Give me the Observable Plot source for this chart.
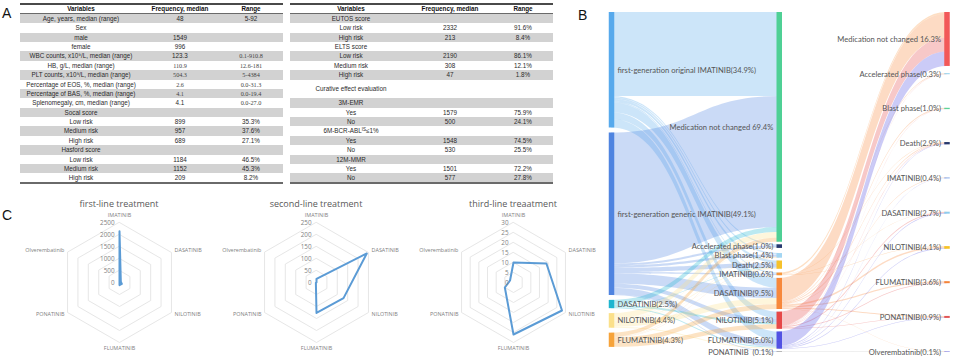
<!DOCTYPE html>
<html>
<head>
<meta charset="utf-8">
<script src="https://cdn.jsdelivr.net/npm/d3@7"></script>
<script src="https://cdn.jsdelivr.net/npm/@observablehq/plot@0.6"></script>
<style>
  html,body{margin:0;padding:0;background:#fff;}
  #fig{position:relative;width:957px;height:360px;overflow:hidden;background:#fff;font-family:"Liberation Sans",Arial,sans-serif;}
  .abs{position:absolute;}
  .plabel{position:absolute;font-size:14px;line-height:14px;color:#111;}
  .cell{position:absolute;top:0;transform:translateX(-50%);white-space:nowrap;font-size:6.3px;color:#2a2a2a;}
  .cell sup{font-size:4.5px;vertical-align:2px;line-height:0;}
  .serif{font-family:"Liberation Serif","Times New Roman",serif;font-size:6.2px;color:#444;}
  .hdr{font-weight:bold;color:#111;}
  .rtitle{position:absolute;text-align:center;font-family:"Open Sans",sans-serif;font-size:9px;line-height:12px;color:#595959;white-space:nowrap;}
</style>
</head>
<body>
<div id="fig"></div>
<script>
// ================= DATA =================
// Panel A — table 1
const t1Headers = ["Variables", "Frequency, median", "Range"];
const t1Variables = ["Age, years, median (range)", "Sex", "male", "female",
  "WBC counts, x10⁹/L, median (range)", "HB, g/L, median (range)", "PLT counts, x10⁹/L, median (range)",
  "Percentage of EOS, %, median (range)", "Percentage of BAS, %, median (range)", "Splenomegaly, cm, median (range)",
  "Socal score", "Low risk", "Medium risk", "High risk", "Hasford score", "Low risk", "Medium risk", "High risk"];
const t1Frequency = ["48", "", "1549", "996", "123.3", "110.9", "504.3", "2.6", "4.1", "4.1",
  "", "899", "957", "689", "", "1184", "1152", "209"];
const t1Range = ["5-92", "", "", "", "0.1-910.8", "12.6-181", "5-4384", "0.0-31.3", "0.0-19.4", "0.0-27.0",
  "", "35.3%", "37.6%", "27.1%", "", "46.5%", "45.3%", "8.2%"];

// Panel A — table 2
const t2Headers = ["Variables", "Frequency, median", "Range"];
const t2Variables = ["EUTOS score", "Low risk", "High risk", "ELTS score", "Low risk", "Medium risk", "High risk",
  "Curative effect evaluation", "3M-EMR", "Yes", "No", "6M-BCR-ABL<sup>IS</sup>≤1%", "Yes", "No", "12M-MMR", "Yes", "No"];
const t2Frequency = ["", "2332", "213", "", "2190", "308", "47", "", "", "1579", "500", "", "1548", "530", "", "1501", "577"];
const t2Range = ["", "91.6%", "8.4%", "", "86.1%", "12.1%", "1.8%", "", "", "75.9%", "24.1%", "", "74.5%", "25.5%", "", "72.2%", "27.8%"];

// Panel B — sankey (values in % of patients)
const firstLineNodes = ["first-generation original IMATINIB", "first-generation generic IMATINIB", "DASATINIB", "NILOTINIB", "FLUMATINIB"];
const firstLineLabels = ["first-generation original IMATINIB(34.9%)", "first-generation generic IMATINIB(49.1%)",
  "DASATINIB(2.5%)", "NILOTINIB(4.4%)", "FLUMATINIB(4.3%)"];
const secondLineNodes = ["Medication not changed", "Accelerated phase", "Blast phase", "Death", "IMATINIB", "DASATINIB", "NILOTINIB", "FLUMATINIB", "PONATINIB"];
const secondLineLabels = ["Medication not changed 69.4%", "Accelerated phase(1.0%)", "Blast phase(1.4%)", "Death(2.5%)",
  "IMATINIB(0.6%)", "DASATINIB(9.5%)", "NILOTINIB(5.1%)", "FLUMATINIB(5.0%)", "PONATINIB  (0.1%)"];
const thirdLineNodes = ["Medication not changed", "Accelerated phase", "Blast phase", "Death", "IMATINIB", "DASATINIB", "NILOTINIB", "FLUMATINIB", "PONATINIB", "Olverembatinib"];
const thirdLineLabels = ["Medication not changed 16.3%", "Accelerated phase(0.3%)", "Blast phase(1.0%)", "Death(2.9%)",
  "IMATINIB(0.4%)", "DASATINIB(2.7%)", "NILOTINIB(4.1%)", "FLUMATINIB(3.6%)", "PONATINIB(0.9%)", "Olverembatinib(0.1%)"];
// rows: first-line nodes; columns: second-line nodes
const flowsFirstToSecond = [
  [25.4, 0.4, 0.4, 0.8, 0.3, 3.0, 2.0, 2.6, 0],
  [39.6, 0.6, 0.7, 1.3, 0.4, 3.1, 1.2, 2.0, 0.2],
  [1.5, 0, 0, 0.1, 0, 0, 0.6, 0.3, 0],
  [1.7, 0.1, 0.2, 0.2, 0.1, 1.8, 0, 0.3, 0],
  [1.2, 0, 0.1, 0.1, 0, 1.5, 1.4, 0, 0]
];
// rows: second-line nodes; columns: third-line nodes
const flowsSecondToThird = [
  [0, 0, 0, 0, 0, 0, 0, 0, 0, 0],
  [0, 0, 0, 0, 0, 0, 0, 0, 0, 0],
  [0, 0, 0, 0, 0, 0, 0, 0, 0, 0],
  [0, 0, 0, 0, 0, 0, 0, 0, 0, 0],
  [0.5, 0, 0, 0.1, 0, 0.1, 0.1, 0, 0, 0],
  [7.2, 0.2, 0.3, 0.3, 0.1, 0, 0.5, 0.4, 0.3, 0.1],
  [4.2, 0.1, 0.1, 0.1, 0, 0.3, 0, 0.2, 0.2, 0],
  [4.4, 0, 0, 0.2, 0.1, 0.2, 0.2, 0, 0.1, 0],
  [0, 0, 0, 0, 0, 0, 0, 0, 0, 0.1]
];

// Panel C — radar charts (patient counts)
const radarAxes = ["IMATINIB", "DASATINIB", "NILOTINIB", "FLUMATINIB", "PONATINIB", "Olverembatinib"];
const radarTitles = ["first-line treatment", "second-line treatment", "third-line treaatment"];
const firstLineCounts = [2138, 64, 112, 109, 0, 0];
const secondLineCounts = [15, 242, 130, 127, 3, 0];
const thirdLineCounts = [10, 19, 28, 26, 5, 2];
const firstLineTicks = [0, 500, 1000, 1500, 2000, 2500];
const secondLineTicks = [0, 50, 100, 150, 200, 250];
const thirdLineTicks = [0, 5, 10, 15, 20, 25, 30];

// ================= STYLE =================
const nodeColors = [
  ["#57a9ec", "#4f84e0", "#1fb5cf", "#fbe08a", "#f6a33a"],
  ["#4fd095", "#27396f", "#a3d6f3", "#f6c22c", "#f7963a", "#f7883c", "#e64848", "#5252e3", "#9a9a9a"],
  ["#f25858", "#8fd0ef", "#5cd39a", "#26386d", "#4d82df", "#8fcdee", "#f6c324", "#f4843a", "#e25656", "#8b8be8"]
];

// ================= HELPERS =================
const px = v => v + "px";
function el(parent, cls, css, html) {
  const d = document.createElement("div");
  if (cls) d.className = cls;
  Object.assign(d.style, css || {});
  if (html != null) d.innerHTML = html;
  parent.appendChild(d);
  return d;
}
const fig = document.getElementById("fig");

// Panel letters
el(fig, "plabel", {left: "2px", top: "6px"}, "A");
el(fig, "plabel", {left: "578px", top: "8px"}, "B");
el(fig, "plabel", {left: "2px", top: "208px"}, "C");

// ================= PANEL A: tables =================
function drawTable(left, width, centers, headers, columns, tall, serif) {
  const top = 4, headH = 10, rowH = 9.37;
  const box = el(fig, "abs", {left: px(left), top: px(top), width: px(width), height: "180px"});
  const hr = el(box, "abs", {left: "0", top: "0", width: px(width), height: px(headH)});
  headers.forEach((h, j) => el(hr, "cell hdr", {left: px(centers[j]), lineHeight: px(headH)}, h));
  let y = headH;
  columns[0].forEach((_, i) => {
    const h = tall.includes(i) ? rowH * 2 : rowH;
    const r = el(box, "abs", {left: "0", top: px(y), width: px(width), height: px(h),
      background: i % 2 === 0 ? "#d2d2d2" : "transparent"});
    columns.forEach((col, j) => {
      const cls = "cell" + (serif[j] && serif[j].includes(i) ? " serif" : "");
      el(r, cls, {left: px(centers[j]), lineHeight: px(h)}, col[i]);
    });
    y += h;
  });
  el(box, "abs", {left: "0", top: "-0.6px", width: px(width), height: "1.3px", background: "#4a4a4a"});
  el(box, "abs", {left: "0", top: px(headH - 1.2), width: px(width), height: "1px", background: "#6a6a6a"});
  el(box, "abs", {left: "0", top: px(y - 0.3), width: px(width), height: "1.3px", background: "#6a6a6a"});
}
drawTable(20, 263, [61, 160, 231], t1Headers, [t1Variables, t1Frequency, t1Range], [],
  {1: [5, 6, 7, 8], 2: [4, 5, 6, 7, 8, 9]});
drawTable(290, 263, [61, 160, 233], t2Headers, [t2Variables, t2Frequency, t2Range], [7], {});

// ================= PANEL B: sankey =================
const colNames = [firstLineNodes, secondLineNodes, thirdLineNodes];
const colLabels = [firstLineLabels, secondLineLabels, thirdLineLabels];
const nodes = [];
colNames.forEach((names, c) => names.forEach((n, i) => nodes.push({
  col: c, idx: i, name: n, label: colLabels[c][i], color: nodeColors[c][i], vin: 0, vout: 0
})));
const byCol = c => nodes.filter(d => d.col === c);
const links = [];
[flowsFirstToSecond, flowsSecondToThird].forEach((mat, c) => mat.forEach((row, i) => row.forEach((v, j) => {
  if (v > 0) {
    const s = byCol(c)[i], t = byCol(c + 1)[j];
    links.push({s, t, v});
    s.vout += v; t.vin += v;
  }
})));
nodes.forEach(d => d.value = Math.max(d.vin, d.vout));
// layout: stack columns with a node gap, keeping label centres apart
const colGap = [1.5, 0.8];
const MIN_LABEL_SPACING = 2.8;
[0, 1].forEach(c => {
  let y = 0, prevC = -Infinity;
  byCol(c).forEach(d => {
    let y0 = y;
    if (y0 + d.value / 2 < prevC + MIN_LABEL_SPACING) y0 = prevC + MIN_LABEL_SPACING - d.value / 2;
    d.y0 = y0; d.y1 = y0 + d.value; prevC = y0 + d.value / 2; y = d.y1 + colGap[c];
  });
});
const yExtent = d3.max(nodes.filter(d => d.col < 2), d => d.y1);
{
  // last column: node centres evenly spread over the full height
  const col = byCol(2);
  const c0 = col[0].value / 2, cN = yExtent - col[col.length - 1].value / 2;
  col.forEach((d, i) => {
    const c = c0 + (cN - c0) * i / (col.length - 1);
    d.y0 = c - d.value / 2; d.y1 = c + d.value / 2;
  });
}
nodes.forEach(d => { d.sy = d.y0; d.ty = d.y0; d.ym = (d.y0 + d.y1) / 2; });
links.slice().sort((a, b) => a.s.col - b.s.col || a.s.idx - b.s.idx || a.t.idx - b.t.idx)
  .forEach(l => { l.sy0 = l.s.sy; l.sy1 = l.sy0 + l.v; l.s.sy = l.sy1; });
links.slice().sort((a, b) => a.t.col - b.t.col || a.t.idx - b.t.idx || a.s.idx - b.s.idx)
  .forEach(l => { l.ty0 = l.t.ty; l.ty1 = l.ty0 + l.v; l.t.ty = l.ty1; });
const linkPts = links.flatMap((l, k) => [
  {id: k, x: l.s.col, y1: l.sy0, y2: l.sy1, color: l.s.color},
  {id: k, x: l.t.col, y1: l.ty0, y2: l.ty1, color: l.s.color}
]);

const skFont = "Lato, 'Noto Sans', sans-serif";
const sankey = Plot.plot({
  width: 362, height: 360, margin: 0,
  x: {domain: [0, 2], range: [16, 351.5], axis: null},
  y: {domain: [0, yExtent], range: [12, 352], axis: null},
  color: {type: "identity"},
  style: {background: "transparent", overflow: "visible", fontFamily: skFont},
  marks: [
    Plot.areaY(linkPts, {x: "x", y1: "y1", y2: "y2", z: "id", fill: "color", fillOpacity: 0.3, curve: "bump-x"}),
    Plot.ruleX(nodes, {x: "col", y1: "y0", y2: "y1", stroke: "color", strokeWidth: 5.5}),
    Plot.text(nodes.filter(d => d.col === 0), {x: "col", y: "ym", text: "label", textAnchor: "start", dx: 6,
      fontSize: 7.6, fill: "#555", fontFamily: skFont}),
    Plot.text(nodes.filter(d => d.col > 0), {x: "col", y: "ym", text: "label", textAnchor: "end", dx: -6,
      fontSize: 7.6, fill: "#555", fontFamily: skFont})
  ]
});
const skBox = el(fig, "abs", {left: "595px", top: "0px"});
skBox.appendChild(sankey);

// ================= PANEL C: radars =================
const rFont = "'Open Sans', sans-serif";
function radar(counts, ticks, title, cx) {
  const max = d3.max(ticks), R = 60, W = 210, H = 170, ox = W / 2, oy = 92;
  const pt = (v, i) => ({x: v * Math.sin(i * Math.PI / 3), y: v * Math.cos(i * Math.PI / 3)});
  const rings = ticks.filter(t => t > 0).flatMap(t => d3.range(6).map(k => ({t, ...pt(t, k)})));
  const poly = counts.map((v, i) => pt(v, i));
  const lab = radarAxes.map((name, i) => ({name, i, ...pt(max * (i === 0 ? 1.12 : i === 3 ? 1.09 : 1.06), i)}));
  const textOpts = {x: "x", y: "y", text: "name", fontSize: 5.4, fill: "#808080", fontFamily: rFont};
  const plot = Plot.plot({
    width: W, height: H, margin: 0,
    x: {domain: [-max, max], range: [ox - R, ox + R], axis: null},
    y: {domain: [-max, max], range: [oy + R, oy - R], axis: null},
    style: {background: "transparent", overflow: "visible", fontFamily: rFont},
    marks: [
      Plot.line(rings, {x: "x", y: "y", z: "t", stroke: "#e0e0e0", strokeWidth: 0.8, curve: "linear-closed"}),
      Plot.line(poly, {x: "x", y: "y", stroke: "#5b9bd5", strokeWidth: 2, curve: "linear-closed"}),
      Plot.text(ticks, {x: () => 0, y: d => d, text: d => String(d), textAnchor: "end", dx: -5,
        fontSize: 6.3, fill: "#808080", fontFamily: rFont}),
      Plot.text(lab.filter(d => d.i === 0 || d.i === 3), {...textOpts, textAnchor: "middle"}),
      Plot.text(lab.filter(d => d.i === 1 || d.i === 2), {...textOpts, textAnchor: "start"}),
      Plot.text(lab.filter(d => d.i === 4 || d.i === 5), {...textOpts, textAnchor: "end"})
    ]
  });
  const box = el(fig, "abs", {left: px(cx - ox), top: "190px"});
  box.appendChild(plot);
  el(fig, "rtitle", {left: px(cx - 80), width: "160px", top: "198px"}, title);
}
radar(firstLineCounts, firstLineTicks, radarTitles[0], 119);
radar(secondLineCounts, secondLineTicks, radarTitles[1], 316);
radar(thirdLineCounts, thirdLineTicks, radarTitles[2], 513);
</script>
</body>
</html>
